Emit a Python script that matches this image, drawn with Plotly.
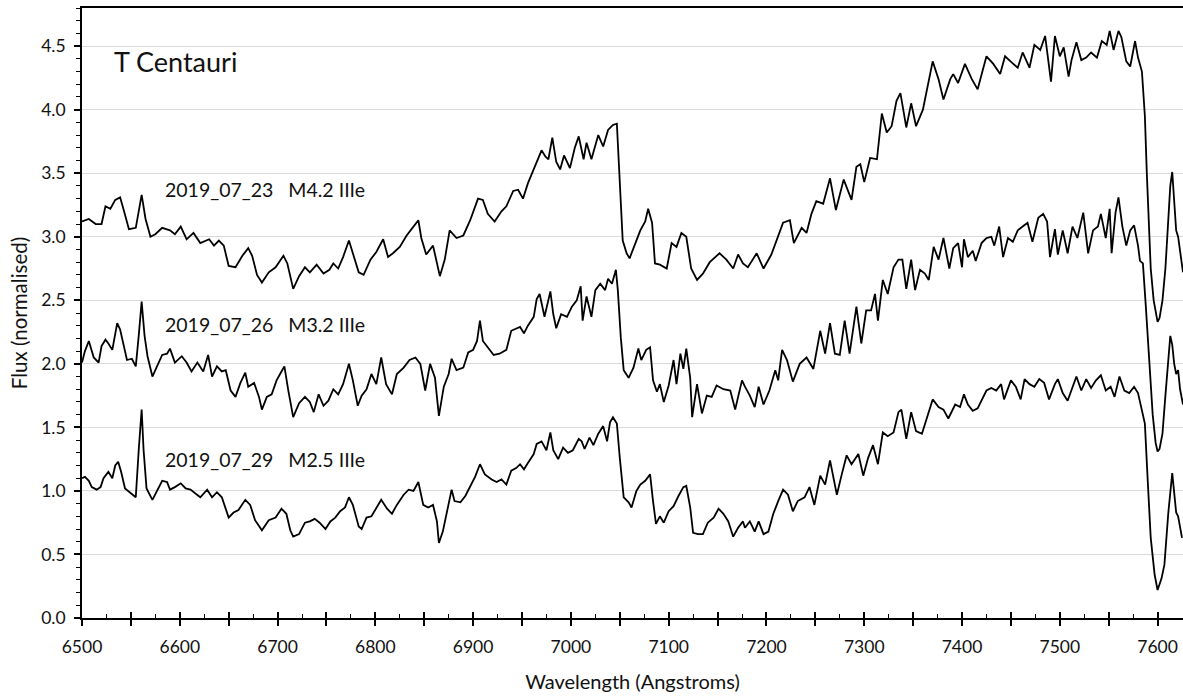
import plotly.graph_objects as go

# Spectra of T Centauri, normalised flux vs wavelength (Angstroms)
wl_0723 = [6500, 6507, 6514, 6520, 6524, 6529, 6534, 6539, 6543, 6548, 6555, 6561, 6565, 6570, 6575,
           6582, 6590, 6595, 6601, 6607, 6614, 6621, 6630, 6635, 6640, 6645, 6650, 6657, 6664, 6670,
           6674, 6679, 6684, 6691, 6698, 6706, 6710, 6713, 6716, 6722, 6728, 6733, 6740, 6747, 6753,
           6757, 6762, 6767, 6773, 6777, 6783, 6788, 6795, 6801, 6808, 6813, 6818, 6825, 6832, 6839,
           6844, 6847, 6852, 6859, 6863, 6866, 6871, 6876, 6883, 6890, 6897, 6902, 6905, 6910, 6915,
           6922, 6929, 6934, 6941, 6946, 6951, 6956, 6962, 6965, 6970, 6974, 6977, 6981, 6985, 6989,
           6993, 6999, 7004, 7008, 7013, 7016, 7021, 7028, 7033, 7038, 7043, 7047, 7050, 7053, 7057,
           7060, 7066, 7071, 7076, 7079, 7083, 7086, 7091, 7098, 7103, 7108, 7113, 7118, 7123, 7129,
           7135, 7142, 7152, 7159, 7166, 7171, 7176, 7181, 7190, 7197, 7205, 7210, 7217, 7224, 7228,
           7236, 7241, 7246, 7251, 7258, 7265, 7271, 7279, 7287, 7292, 7296, 7300, 7306, 7313, 7318,
           7323, 7328, 7333, 7337, 7343, 7348, 7353, 7360, 7365, 7370, 7376, 7381, 7388, 7391, 7396,
           7403, 7410, 7416, 7425, 7432, 7439, 7444, 7451, 7457, 7462, 7469, 7474, 7480, 7485, 7491,
           7495, 7500, 7504, 7509, 7512, 7517, 7522, 7527, 7532, 7538, 7543, 7548, 7551, 7555, 7560,
           7563, 7568, 7572, 7577, 7580, 7584, 7587, 7589, 7591, 7593, 7596, 7598, 7600, 7602, 7605,
           7608, 7611, 7613, 7615, 7617, 7619, 7621, 7623, 7626]
flux_0723 = [3.12, 3.14, 3.10, 3.10, 3.24, 3.22, 3.29, 3.31, 3.20, 3.06, 3.07, 3.33, 3.14, 3.00, 3.02,
             3.07, 3.05, 3.02, 3.08, 2.98, 3.03, 2.95, 2.98, 2.93, 2.97, 2.93, 2.77, 2.76, 2.85, 2.91,
             2.85, 2.70, 2.64, 2.72, 2.76, 2.85, 2.79, 2.69, 2.59, 2.69, 2.76, 2.72, 2.78, 2.71, 2.74,
             2.79, 2.75, 2.84, 2.97, 2.87, 2.72, 2.70, 2.82, 2.88, 2.98, 2.84, 2.87, 2.92, 3.01, 3.08,
             3.13, 2.99, 2.86, 2.93, 2.79, 2.69, 2.82, 3.05, 2.99, 3.01, 3.13, 3.24, 3.30, 3.29, 3.18,
             3.12, 3.20, 3.24, 3.36, 3.37, 3.30, 3.42, 3.53, 3.58, 3.68, 3.63, 3.61, 3.78, 3.59, 3.53,
             3.64, 3.54, 3.70, 3.79, 3.61, 3.74, 3.61, 3.80, 3.71, 3.84, 3.88, 3.89, 3.37, 2.97, 2.87,
             2.83, 2.95, 3.05, 3.12, 3.22, 3.11, 2.79, 2.78, 2.75, 2.95, 2.92, 3.03, 3.00, 2.75, 2.66,
             2.71, 2.80, 2.87, 2.82, 2.75, 2.86, 2.79, 2.76, 2.87, 2.75, 2.86, 2.96, 3.11, 3.13, 2.95,
             3.07, 3.03, 3.18, 3.28, 3.26, 3.46, 3.21, 3.45, 3.29, 3.55, 3.57, 3.43, 3.62, 3.61, 3.97,
             3.82, 3.87, 4.07, 4.13, 3.86, 4.05, 3.87, 4.00, 4.18, 4.38, 4.24, 4.08, 4.24, 4.28, 4.21,
             4.36, 4.24, 4.16, 4.42, 4.36, 4.28, 4.42, 4.37, 4.33, 4.45, 4.33, 4.51, 4.47, 4.58, 4.22,
             4.58, 4.42, 4.49, 4.26, 4.39, 4.53, 4.39, 4.41, 4.45, 4.41, 4.54, 4.51, 4.62, 4.47, 4.62,
             4.57, 4.38, 4.34, 4.54, 4.41, 4.30, 3.95, 3.50, 3.05, 2.75, 2.50, 2.40, 2.33, 2.36, 2.50,
             2.75, 3.10, 3.40, 3.51, 3.30, 3.05, 3.00, 2.90, 2.72]

wl_0726 = [6500, 6503, 6507, 6512, 6517, 6520, 6524, 6527, 6531, 6536, 6539, 6543, 6546, 6551, 6555,
           6558, 6561, 6564, 6567, 6572, 6577, 6582, 6587, 6590, 6595, 6602, 6607, 6612, 6618, 6624,
           6629, 6633, 6638, 6643, 6647, 6652, 6657, 6662, 6667, 6670, 6676, 6681, 6684, 6689, 6694,
           6699, 6704, 6707, 6711, 6716, 6722, 6728, 6733, 6737, 6742, 6747, 6752, 6757, 6762, 6767,
           6773, 6777, 6782, 6786, 6791, 6796, 6801, 6806, 6811, 6817, 6822, 6829, 6835, 6841, 6846,
           6851, 6856, 6861, 6865, 6870, 6875, 6878, 6883, 6890, 6895, 6900, 6904, 6907, 6910, 6915,
           6921, 6927, 6934, 6939, 6944, 6948, 6952, 6956, 6962, 6965, 6968, 6973, 6979, 6982, 6985,
           6990, 6996, 7001, 7006, 7010, 7012, 7016, 7021, 7025, 7030, 7035, 7038, 7042, 7046, 7048,
           7051, 7054, 7059, 7064, 7069, 7072, 7077, 7081, 7084, 7088, 7091, 7095, 7100, 7105, 7108,
           7112, 7115, 7118, 7122, 7124, 7129, 7134, 7139, 7144, 7149, 7156, 7163, 7168, 7171, 7175,
           7178, 7183, 7188, 7192, 7197, 7203, 7209, 7212, 7216, 7221, 7227, 7234, 7241, 7248, 7255,
           7260, 7265, 7270, 7275, 7280, 7285, 7292, 7297, 7302, 7307, 7311, 7314, 7319, 7324, 7330,
           7335, 7339, 7343, 7348, 7352, 7357, 7362, 7366, 7371, 7376, 7381, 7387, 7391, 7396, 7400,
           7402, 7406, 7411, 7414, 7420, 7425, 7430, 7433, 7438, 7442, 7447, 7452, 7457, 7462, 7467,
           7472, 7478, 7483, 7487, 7490, 7495, 7498, 7503, 7508, 7513, 7518, 7524, 7529, 7534, 7539,
           7542, 7547, 7551, 7553, 7557, 7560, 7564, 7568, 7572, 7576, 7580, 7582, 7585, 7588, 7592,
           7595, 7598, 7600, 7602, 7605, 7608, 7611, 7613, 7615, 7617, 7619, 7621, 7623, 7626]
flux_0726 = [2.01, 2.10, 2.18, 2.05, 2.01, 2.14, 2.19, 2.16, 2.11, 2.32, 2.27, 2.14, 2.03, 2.04, 1.98,
             2.22, 2.49, 2.22, 2.06, 1.90, 1.98, 2.07, 2.08, 2.12, 2.01, 2.06, 2.01, 1.94, 2.01, 1.94,
             2.07, 1.90, 1.98, 1.94, 1.95, 1.79, 1.74, 1.85, 1.93, 1.82, 1.85, 1.74, 1.64, 1.74, 1.76,
             1.87, 1.94, 1.98, 1.79, 1.58, 1.69, 1.74, 1.70, 1.62, 1.76, 1.67, 1.71, 1.80, 1.76, 1.84,
             2.00, 1.87, 1.67, 1.75, 1.80, 1.92, 1.84, 2.05, 1.84, 1.76, 1.92, 1.97, 2.03, 2.05, 2.00,
             1.79, 2.00, 1.89, 1.59, 1.82, 1.92, 2.04, 1.95, 1.97, 2.09, 2.11, 2.18, 2.34, 2.18, 2.13,
             2.07, 2.08, 2.11, 2.26, 2.28, 2.29, 2.24, 2.30, 2.37, 2.51, 2.55, 2.37, 2.57, 2.39, 2.28,
             2.39, 2.37, 2.45, 2.50, 2.61, 2.34, 2.53, 2.37, 2.58, 2.63, 2.58, 2.67, 2.63, 2.74, 2.58,
             2.21, 1.95, 1.89, 1.97, 2.12, 2.03, 2.11, 2.13, 1.87, 1.78, 1.84, 1.70, 1.83, 2.03, 1.84,
             2.08, 1.96, 2.12, 1.89, 1.58, 1.84, 1.61, 1.75, 1.74, 1.83, 1.80, 1.79, 1.64, 1.74, 1.87,
             1.82, 1.75, 1.66, 1.82, 1.68, 1.79, 1.95, 1.87, 2.11, 2.03, 1.86, 2.00, 2.05, 1.96, 2.26,
             2.08, 2.32, 2.08, 2.07, 2.34, 2.08, 2.45, 2.16, 2.42, 2.42, 2.55, 2.34, 2.66, 2.55, 2.76,
             2.82, 2.82, 2.59, 2.82, 2.58, 2.74, 2.71, 2.66, 2.92, 2.82, 2.99, 2.75, 2.91, 2.95, 2.76,
             2.98, 2.84, 2.89, 2.81, 2.95, 2.99, 3.00, 2.93, 3.08, 2.84, 2.99, 2.96, 3.05, 3.08, 3.11,
             2.96, 3.15, 3.18, 3.12, 2.84, 3.06, 2.86, 3.05, 2.87, 3.08, 2.99, 3.19, 2.87, 3.05, 3.08,
             3.18, 2.99, 3.22, 2.87, 3.19, 3.31, 3.08, 2.93, 3.05, 3.09, 2.93, 2.81, 2.79, 2.45, 2.00,
             1.60, 1.38, 1.31, 1.33, 1.45, 1.75, 2.05, 2.22, 2.15, 2.00, 1.92, 1.95, 1.80, 1.68]

wl_0729 = [6500, 6503, 6507, 6510, 6515, 6519, 6522, 6527, 6531, 6534, 6537, 6540, 6544, 6549, 6555,
           6558, 6561, 6563, 6566, 6572, 6577, 6582, 6587, 6590, 6595, 6601, 6606, 6611, 6616, 6621,
           6628, 6633, 6638, 6643, 6650, 6655, 6660, 6667, 6672, 6677, 6684, 6691, 6698, 6704, 6709,
           6713, 6716, 6722, 6728, 6733, 6738, 6743, 6749, 6754, 6759, 6764, 6769, 6773, 6777, 6783,
           6786, 6791, 6796, 6801, 6806, 6812, 6817, 6822, 6829, 6834, 6839, 6844, 6849, 6854, 6859,
           6863, 6865, 6869, 6873, 6878, 6881, 6887, 6892, 6897, 6902, 6907, 6912, 6919, 6924, 6929,
           6934, 6939, 6944, 6948, 6952, 6956, 6962, 6965, 6970, 6975, 6979, 6982, 6987, 6992, 6997,
           7002, 7008, 7011, 7014, 7019, 7023, 7028, 7033, 7037, 7040, 7043, 7047, 7050, 7054, 7059,
           7062, 7067, 7071, 7076, 7081, 7084, 7087, 7091, 7095, 7100, 7105, 7110, 7115, 7118, 7122,
           7125, 7130, 7135, 7140, 7146, 7151, 7156, 7161, 7166, 7171, 7176, 7178, 7183, 7188, 7192,
           7197, 7202, 7207, 7212, 7217, 7222, 7227, 7232, 7239, 7244, 7249, 7255, 7260, 7265, 7272,
           7277, 7282, 7287, 7294, 7299, 7304, 7309, 7314, 7319, 7324, 7330, 7335, 7338, 7343, 7348,
           7353, 7359, 7364, 7370, 7376, 7381, 7386, 7393, 7398, 7402, 7406, 7411, 7416, 7420, 7425,
           7430, 7435, 7440, 7443, 7450, 7455, 7460, 7464, 7469, 7474, 7479, 7484, 7489, 7495, 7498,
           7503, 7508, 7513, 7517, 7522, 7527, 7532, 7537, 7542, 7547, 7552, 7556, 7561, 7566, 7571,
           7576, 7580, 7583, 7587, 7590, 7593, 7597, 7600, 7604, 7607, 7611, 7615, 7619, 7621, 7625]
flux_0729 = [1.10, 1.11, 1.08, 1.03, 1.01, 1.03, 1.10, 1.15, 1.10, 1.20, 1.23, 1.15, 1.02, 0.99, 0.95,
             1.32, 1.64, 1.32, 1.02, 0.93, 1.01, 1.08, 1.07, 1.01, 1.03, 1.06, 1.02, 1.01, 0.98, 0.95,
             1.01, 0.95, 0.99, 0.95, 0.79, 0.83, 0.85, 0.93, 0.89, 0.77, 0.69, 0.77, 0.79, 0.86, 0.82,
             0.69, 0.64, 0.66, 0.75, 0.76, 0.78, 0.75, 0.70, 0.76, 0.79, 0.84, 0.87, 0.95, 0.89, 0.72,
             0.70, 0.79, 0.80, 0.87, 0.93, 0.86, 0.82, 0.89, 0.97, 1.01, 1.00, 1.07, 0.89, 0.87, 0.89,
             0.76, 0.59, 0.68, 0.83, 1.01, 0.92, 0.91, 0.96, 1.03, 1.11, 1.21, 1.13, 1.09, 1.07, 1.09,
             1.05, 1.16, 1.18, 1.21, 1.17, 1.22, 1.29, 1.37, 1.39, 1.32, 1.46, 1.32, 1.25, 1.34, 1.30,
             1.32, 1.41, 1.39, 1.33, 1.42, 1.36, 1.45, 1.51, 1.39, 1.54, 1.58, 1.53, 1.26, 0.95, 0.91,
             0.87, 1.00, 1.05, 1.08, 1.13, 0.92, 0.74, 0.80, 0.75, 0.84, 0.88, 0.96, 1.03, 1.04, 0.87,
             0.67, 0.66, 0.66, 0.75, 0.79, 0.86, 0.82, 0.76, 0.64, 0.71, 0.76, 0.71, 0.76, 0.68, 0.76,
             0.66, 0.68, 0.82, 0.92, 1.01, 0.97, 0.84, 0.92, 0.95, 1.03, 0.89, 1.12, 1.05, 1.24, 0.97,
             1.13, 1.28, 1.21, 1.29, 1.12, 1.26, 1.36, 1.21, 1.46, 1.43, 1.46, 1.62, 1.64, 1.41, 1.62,
             1.47, 1.45, 1.58, 1.72, 1.66, 1.64, 1.57, 1.68, 1.66, 1.76, 1.68, 1.63, 1.65, 1.71, 1.79,
             1.81, 1.79, 1.84, 1.72, 1.87, 1.82, 1.72, 1.88, 1.84, 1.82, 1.88, 1.85, 1.72, 1.84, 1.88,
             1.77, 1.71, 1.82, 1.90, 1.79, 1.88, 1.81, 1.87, 1.91, 1.79, 1.82, 1.74, 1.90, 1.79, 1.77,
             1.82, 1.77, 1.66, 1.53, 1.07, 0.63, 0.34, 0.22, 0.31, 0.42, 0.83, 1.14, 0.83, 0.80, 0.63]

spectrum_labels = ["2019_07_23\u00a0\u00a0\u00a0M4.2 IIIe",
                   "2019_07_26\u00a0\u00a0\u00a0M3.2 IIIe",
                   "2019_07_29\u00a0\u00a0\u00a0M2.5 IIIe"]
label_y = [3.37, 2.31, 1.245]
star_name = "T Centauri"

x_ticks = list(range(6500, 7601, 50))
x_ticktext = [str(v) if v % 100 == 0 else "" for v in x_ticks]

FONT = "Lato, 'Open Sans', sans-serif"
INK = "#111111"

fig = go.Figure()
for wl, fl in [(wl_0723, flux_0723), (wl_0726, flux_0726), (wl_0729, flux_0729)]:
    fig.add_trace(go.Scatter(x=wl, y=fl, mode="lines",
                             line=dict(color="black", width=1.8),
                             showlegend=False, hoverinfo="skip"))

# Invisible helper trace so the overlay axis (inner tick marks) is drawn
fig.add_trace(go.Scatter(x=[6500], y=[0], xaxis="x2", mode="markers",
                         marker=dict(opacity=0), showlegend=False, hoverinfo="skip"))

for text, y in zip(spectrum_labels, label_y):
    fig.add_annotation(x=6582.5, y=y, text=text, showarrow=False,
                       xanchor="left", yanchor="middle",
                       font=dict(family=FONT, size=19.5, color=INK))
fig.add_annotation(x=6530.5, y=4.38, text=star_name, showarrow=False,
                   xanchor="left", yanchor="middle",
                   font=dict(family=FONT, size=27, color=INK))

x_range = [6500, 7626]
fig.update_layout(
    width=1183, height=698,
    margin=dict(l=82, r=0, t=8, b=80),
    paper_bgcolor="white", plot_bgcolor="white",
    font=dict(family=FONT, color=INK),
    xaxis=dict(range=x_range, tickmode="array", tickvals=x_ticks, ticktext=x_ticktext,
               ticks="outside", ticklen=6, tickwidth=1.5, tickcolor="black",
               showline=True, linecolor="black", linewidth=1.8, mirror=True,
               showgrid=False, zeroline=False,
               tickfont=dict(size=17.5, color=INK), ticklabelstandoff=6,
               title=dict(text="Wavelength (Angstroms)", font=dict(size=20, color=INK), standoff=19)),
    xaxis2=dict(range=x_range, overlaying="x", anchor="y", side="bottom",
                tickmode="linear", tick0=6500, dtick=50,
                ticks="inside", ticklen=6, tickwidth=1.5, tickcolor="black",
                minor=dict(ticks="inside", dtick=25, tick0=6500, ticklen=4, tickwidth=1.3, tickcolor="black"),
                showticklabels=False, showline=False, showgrid=False, zeroline=False),
    yaxis=dict(range=[0, 4.8], tickmode="linear", tick0=0, dtick=0.5, tickformat=".1f",
               ticks="outside", ticklen=6, tickwidth=1.5, tickcolor="black",
               minor=dict(ticks="outside", dtick=0.1, ticklen=4, tickwidth=1.3, tickcolor="black",
                          showgrid=False),
               showline=True, linecolor="black", linewidth=1.8,
               showgrid=True, gridcolor="#d9d9d9", gridwidth=1.2, zeroline=False,
               tickfont=dict(size=17.5, color=INK), ticklabelstandoff=5,
               title=dict(text="Flux (normalised)", font=dict(size=20.5, color=INK), standoff=8)),
)

fig.write_html("out.html")
